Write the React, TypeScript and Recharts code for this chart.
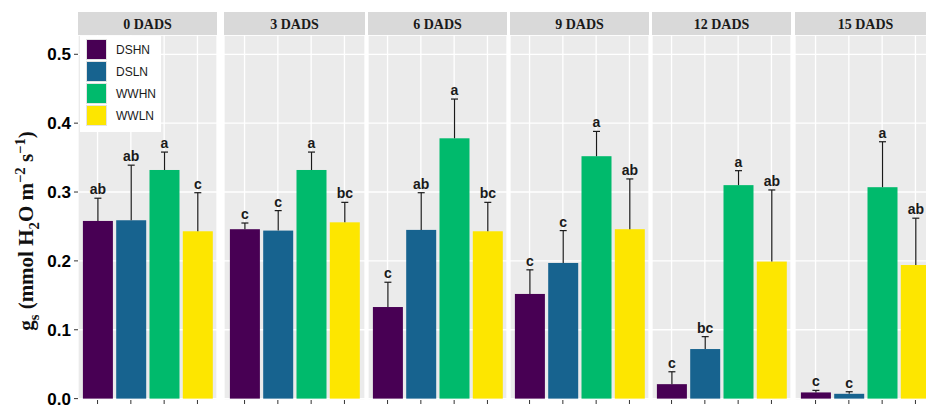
import { BarChart, Bar, XAxis, YAxis, CartesianGrid } from 'recharts';

const days = ['0 DADS', '3 DADS', '6 DADS', '9 DADS', '12 DADS', '15 DADS'];
const treatments = ['DSHN', 'DSLN', 'WWHN', 'WWLN'];
const colors = ['#480054', '#17638f', '#00ba6c', '#fde600'];

// stomatal conductance means, one entry per day
const dshnMean = [0.258, 0.246, 0.133, 0.152, 0.021, 0.009];
const dslnMean = [0.259, 0.244, 0.245, 0.197, 0.072, 0.007];
const wwhnMean = [0.332, 0.332, 0.378, 0.352, 0.310, 0.307];
const wwlnMean = [0.243, 0.256, 0.243, 0.246, 0.199, 0.194];

// upper error bar length
const dshnSe = [0.033, 0.009, 0.036, 0.035, 0.018, 0.003];
const dslnSe = [0.080, 0.029, 0.054, 0.047, 0.018, 0.003];
const wwhnSe = [0.026, 0.026, 0.057, 0.036, 0.021, 0.066];
const wwlnSe = [0.056, 0.029, 0.042, 0.073, 0.104, 0.068];

// significance letters
const dshnLetters = ['ab', 'c', 'c', 'c', 'c', 'c'];
const dslnLetters = ['ab', 'c', 'ab', 'c', 'bc', 'c'];
const wwhnLetters = ['a', 'a', 'a', 'a', 'a', 'a'];
const wwlnLetters = ['c', 'bc', 'bc', 'ab', 'ab', 'ab'];

const yTicks = [0, 0.1, 0.2, 0.3, 0.4, 0.5];
const yMinorTicks = [0.05, 0.15, 0.25, 0.35, 0.45];
const yDomain = [-0.002, 0.528];

const means = [dshnMean, dslnMean, wwhnMean, wwlnMean];
const ses = [dshnSe, dslnSe, wwhnSe, wwlnSe];
const letters = [dshnLetters, dslnLetters, wwhnLetters, wwlnLetters];

// facet layout
const panelLeft = [78, 224, 368, 510, 652, 795];
const panelWidth = [139, 141, 139, 139, 139, 141];
const AXIS_W = 78;
const STRIP_TOP = 12;
const PLOT_TOP = 35;
const CHART_H = 370;

const sans = '"Liberation Sans", Arial, sans-serif';
const serif = '"Liberation Serif", "Times New Roman", serif';

function rowsFor(day: number) {
  return treatments.map((t, k) => ({
    name: t,
    value: means[k][day],
    se: ses[k][day],
    letter: letters[k][day],
    color: colors[k],
  }));
}

// bar + upper-only error bar + letter, error length scaled from the bar's own pixel height
function BarWithError(props: any) {
  const { x, y, width, height, payload } = props;
  const pxPerUnit = height / payload.value;
  const top = y - payload.se * pxPerUnit;
  const cx = x + width / 2;
  return (
    <g>
      <rect x={x} y={y} width={width} height={height} fill={payload.color} />
      <line x1={cx} x2={cx} y1={y} y2={top} stroke="#1a1a1a" strokeWidth={1.2} />
      <line x1={cx - 3.5} x2={cx + 3.5} y1={top} y2={top} stroke="#1a1a1a" strokeWidth={1.2} />
      <text x={cx} y={top - 4} textAnchor="middle" fontFamily={sans} fontWeight="bold" fontSize={14} fill="#1a1a1a">
        {payload.letter}
      </text>
    </g>
  );
}

function Panel({ day }: { day: number }) {
  const first = day === 0;
  const width = first ? AXIS_W + panelWidth[day] : panelWidth[day];
  const left = first ? 0 : panelLeft[day];
  const pad = (panelWidth[day] - 4 * 33.3) / 2;
  return (
    <>
      <div
        style={{
          position: 'absolute',
          left: panelLeft[day],
          top: STRIP_TOP,
          width: panelWidth[day],
          height: PLOT_TOP - STRIP_TOP,
          background: '#d9d9d9',
          fontFamily: serif,
          fontWeight: 'bold',
          fontSize: 14,
          color: '#1a1a1a',
          textAlign: 'center',
          lineHeight: `${PLOT_TOP - STRIP_TOP + 3}px`,
        }}
      >
        {days[day]}
      </div>
      <div style={{ position: 'absolute', left, top: PLOT_TOP }}>
        <BarChart width={width} height={CHART_H} data={rowsFor(day)} margin={{ top: 0, right: 0, bottom: 0, left: 0 }}>
          <XAxis
            dataKey="name"
            height={5}
            tickSize={4}
            interval={0}
            axisLine={false}
            tickLine={{ stroke: '#333' }}
            tick={() => <g />}
            padding={{ left: pad, right: pad }}
          />
          <YAxis yAxisId="minor" hide domain={yDomain} ticks={yMinorTicks} interval={0} type="number" />
          <YAxis
            yAxisId="main"
            hide={!first}
            width={AXIS_W}
            domain={yDomain}
            ticks={yTicks}
            interval={0}
            type="number"
            tickSize={4}
            tickMargin={3}
            axisLine={false}
            tickLine={{ stroke: '#333' }}
            tickFormatter={(v: number) => v.toFixed(1)}
            tick={{ fontFamily: sans, fontWeight: 'bold', fontSize: 17, fill: '#000' }}
          />
          <CartesianGrid yAxisId="minor" vertical={false} fill="#ebebeb" stroke="#ffffff" strokeWidth={0.6} />
          <CartesianGrid yAxisId="main" stroke="#ffffff" strokeWidth={1.3} />
          <Bar yAxisId="main" dataKey="value" barSize={30} shape={BarWithError} isAnimationActive={false} />
        </BarChart>
      </div>
    </>
  );
}

function LegendBox() {
  return (
    <div
      style={{
        position: 'absolute',
        left: 80,
        top: 36,
        width: 81,
        height: 96,
        background: '#ffffff',
      }}
    >
      {treatments.map((t, k) => (
        <div key={t} style={{ position: 'absolute', left: 6, top: 3 + k * 22, height: 21, display: 'flex', alignItems: 'center' }}>
          <div style={{ width: 21, height: 21, background: colors[k], boxSizing: 'border-box', border: '1px solid #e3e3e3' }} />
          <span style={{ marginLeft: 9, fontFamily: sans, fontSize: 12, color: '#1a1a1a' }}>{t}</span>
        </div>
      ))}
    </div>
  );
}

export default function App() {
  return (
    <div style={{ position: 'absolute', left: 0, top: 0, width: 926, height: 405, overflow: 'hidden', background: '#fff' }}>
      {days.map((_, i) => (
        <Panel key={i} day={i} />
      ))}
      <LegendBox />
      <div
        style={{
          position: 'absolute',
          left: 27,
          top: 231,
          transform: 'translate(-50%, -50%) rotate(-90deg)',
          whiteSpace: 'nowrap',
          fontFamily: serif,
          fontWeight: 'bold',
          fontSize: 21,
          color: '#111',
          lineHeight: '24px',
        }}
      >
        g<sub style={{ fontSize: '70%' }}>s</sub> (mmol H<sub style={{ fontSize: '70%' }}>2</sub>O m
        <sup style={{ fontSize: '70%' }}>−2</sup> s<sup style={{ fontSize: '70%' }}>−1</sup>)
      </div>
    </div>
  );
}
